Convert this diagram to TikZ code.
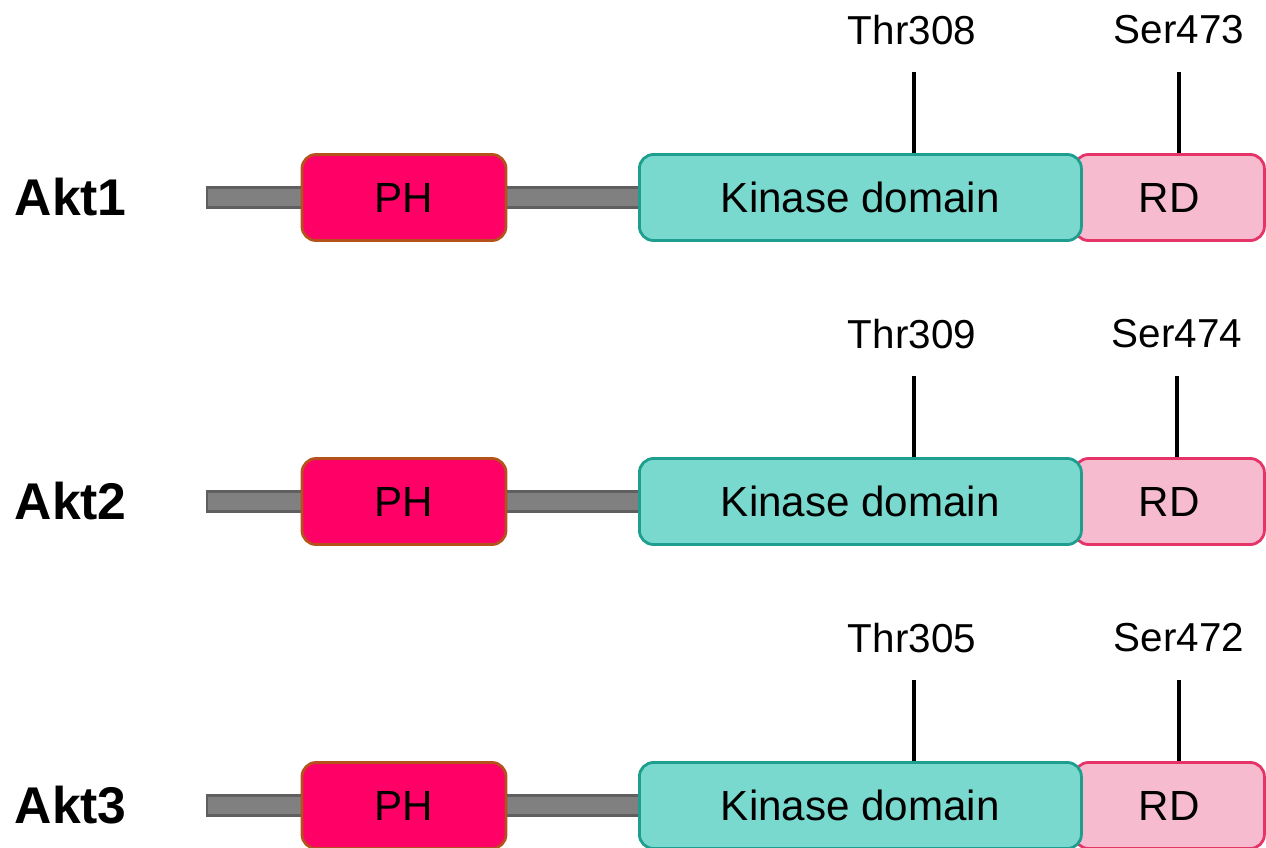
\documentclass[tikz,border=0pt]{standalone}
\usepackage{fontspec}
\setmainfont{Liberation Sans}
\usetikzlibrary{positioning}
\definecolor{phfill}{HTML}{FF0066}
\definecolor{phline}{HTML}{B5521B}
\definecolor{kinfill}{HTML}{7AD9CE}
\definecolor{kinline}{HTML}{1E9E8E}
\definecolor{rdfill}{HTML}{F7BBCF}
\definecolor{rdline}{HTML}{E63368}
\definecolor{linker}{HTML}{808080}
\definecolor{linkline}{HTML}{5F5F5F}

\begin{document}
\begin{tikzpicture}[
      dom/.style={draw, rounded corners=4pt, minimum height=0.86cm, line width=0.8pt,
                  inner sep=0pt, font=\fontsize{12}{14}\selectfont},
      lnk/.style={draw=linkline, fill=linker, minimum height=0.2cm, inner sep=0pt,
                  line width=0.6pt},
      site/.style={font=\fontsize{11.5}{13}\selectfont, inner sep=1pt},
      tick/.style={line width=1.3pt},
      iso/.style={font=\fontsize{14.7}{17}\bfseries\selectfont, anchor=west, inner sep=0pt}]

    \useasboundingbox (0,0) rectangle (12.66,-8.48);

    % one row per isoform: name/centre line/T-loop site/HM site/x of HM site
    \foreach \n/\y/\thr/\ser/\sx in {1/-1.975/Thr308/Ser473/11.79,
                                     2/-5.015/Thr309/Ser474/11.77,
                                     3/-8.055/Thr305/Ser472/11.79} {
      \node[iso] (akt\n) at (0.14,\y) {Akt\n};

      % linker bar behind PH
      \node[lnk, minimum width=4.33cm] (lnk\n) at (4.235,\y) {};
      \node[dom, draw=phline, fill=phfill, minimum width=2.04cm] (ph\n) at (4.04,\y) {PH};

      % RD sits behind the kinase domain
      \node[dom, draw=rdline, fill=rdfill, minimum width=1.90cm, anchor=west] (rd\n)
        at (10.73,\y) {RD};
      \node[dom, draw=kinline, fill=kinfill, minimum width=4.42cm, anchor=west] (kin\n)
        at (6.38,\y) {Kinase domain};

      % phosphorylation sites
      \node[site] (thr\n) at (9.12,\y+1.675) {\thr};
      \node[site] (ser\n) at (\sx,\y+1.675) {\ser};
      \coordinate (tp\n) at (9.14,\y+1.255);
      \coordinate (sp\n) at (\sx,\y+1.255);
      \draw[tick] (tp\n) -- (tp\n |- kin\n.north);
      \draw[tick] (sp\n) -- (sp\n |- rd\n.north);
    }
  \end{tikzpicture}
\end{document}
